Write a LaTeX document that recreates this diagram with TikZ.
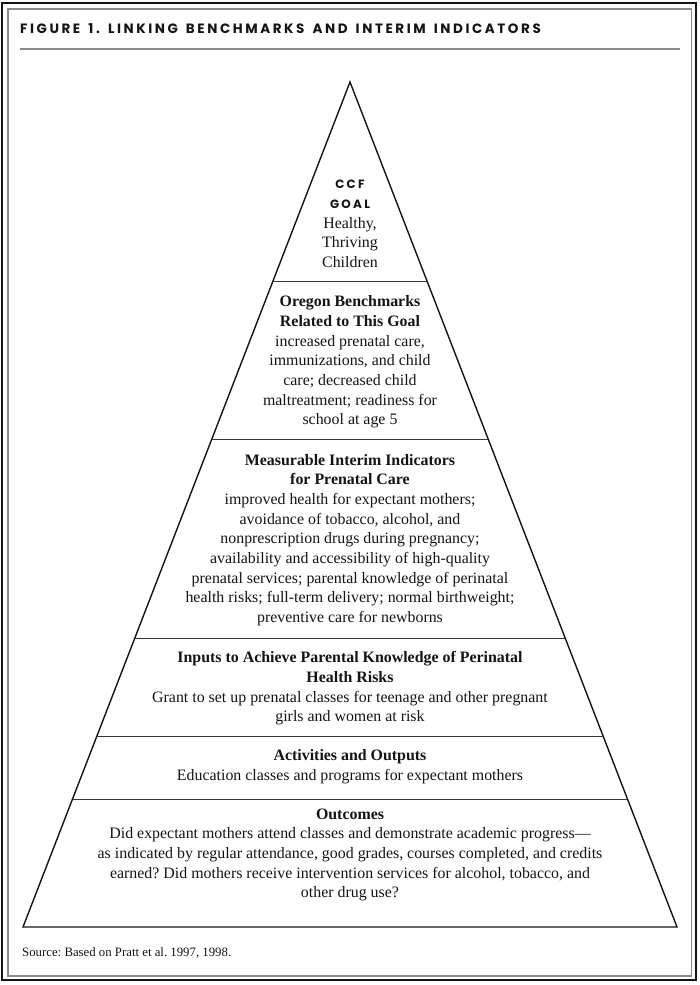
\documentclass[tikz,border=0pt]{standalone}
\usepackage{fontspec}
\setmainfont{Liberation Serif}
\newfontfamily\figsans[LetterSpace=19, WordSpace=1.5]{Poppins}
\usetikzlibrary{calc}
\definecolor{figink}{HTML}{141414}
\definecolor{figgray}{HTML}{8A8A8A}
\tikzset{
  frame outer/.style={draw=figink, line width=2pt},
  frame inner/.style={draw=figgray, line width=1.2pt},
  pyramid edge/.style={draw=figink, line width=1.4pt, line join=miter},
  tier rule/.style={draw=figink!85, line width=0.9pt},
  tier text/.style={align=center, text=figink, inner sep=0pt,
    font=\fontsize{15.9}{19.7}\selectfont},
  title label/.style={anchor=west, inner sep=0pt, text=figink,
    font=\figsans\bfseries\fontsize{13.5}{15}\selectfont},
  source label/.style={anchor=west, inner sep=0pt, text=figink,
    font=\fontsize{12.8}{14}\selectfont},
}
\newcommand{\goalcaps}[1]{{\figsans\bfseries\fontsize{12}{19.7}\selectfont #1}}
\frenchspacing

\begin{document}
\begin{tikzpicture}[x=1pt, y=-1pt]
  \useasboundingbox (0,0) rectangle (700,985);
  % double frame and title rule
  \draw[frame outer] (2,2.5) rectangle (696,979.5);
  \draw[frame inner] (8,9) rectangle (691.5,976);
  \node[title label] (title) at (20,29)
    {FIGURE 1. LINKING BENCHMARKS AND INTERIM INDICATORS};
  \draw[frame inner] (20,49) -- (680,49);

  % pyramid
  \coordinate (apex) at (350,82);
  \coordinate (bl) at (23,927);
  \coordinate (br) at (677,927);
  \draw[pyramid edge] (bl) -- (apex) -- (br) -- cycle;
  \foreach \t in {0.2355,0.4225,0.658,0.775,0.8485}
    \draw[tier rule] ($(apex)!\t!(bl)$) -- ($(apex)!\t!(br)$);

  % tiers, top to bottom
  \node[tier text] (goal) at (350,224)
    {\goalcaps{CCF}\\\goalcaps{GOAL}\\Healthy,\\Thriving\\Children};
  \node[tier text] (bench) at (350,362)
    {\textbf{Oregon Benchmarks}\\\textbf{Related to This Goal}\\
     increased prenatal care,\\immunizations, and child\\
     care; decreased child\\maltreatment; readiness for\\school at age 5};
  \node[tier text] (interim) at (350,540)
    {\textbf{Measurable Interim Indicators}\\\textbf{for Prenatal Care}\\
     improved health for expectant mothers;\\
     avoidance of tobacco, alcohol, and\\
     nonprescription drugs during pregnancy;\\
     availability and accessibility of high-quality\\
     prenatal services; parental knowledge of perinatal\\
     health risks; full-term delivery; normal birthweight;\\
     preventive care for newborns};
  \node[tier text] (inputs) at (350,688.5)
    {\textbf{Inputs to Achieve Parental Knowledge of Perinatal}\\
     \textbf{Health Risks}\\
     Grant to set up prenatal classes for teenage and other pregnant\\
     girls and women at risk};
  \node[tier text] (acts) at (350,766.5)
    {\textbf{Activities and Outputs}\\
     Education classes and programs for expectant mothers};
  \node[tier text] (outcomes) at (350,855)
    {\textbf{Outcomes}\\
     Did expectant mothers attend classes and demonstrate academic progress---\\
     as indicated by regular attendance, good grades, courses completed, and credits\\
     earned? Did mothers receive intervention services for alcohol, tobacco, and\\
     other drug use?};

  \node[source label] (source) at (22,953)
    {Source: Based on Pratt et al. 1997, 1998.};
\end{tikzpicture}
\end{document}
